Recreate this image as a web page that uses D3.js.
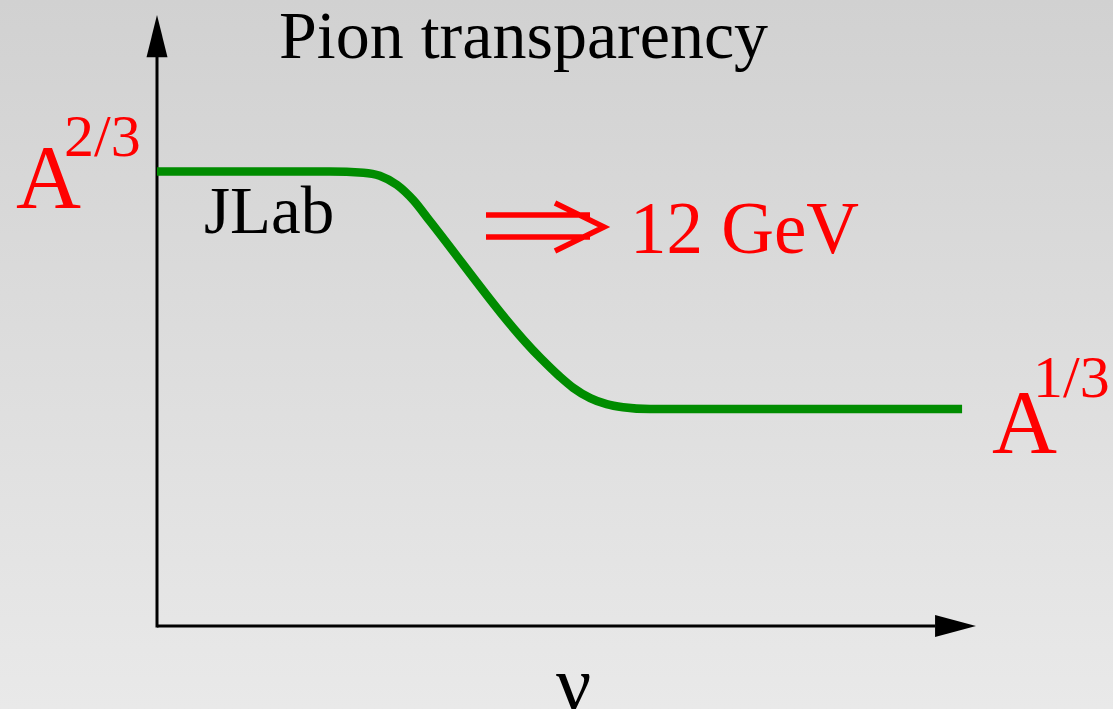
<!DOCTYPE html>
<html>
<head>
<meta charset="utf-8">
<script src="https://cdn.jsdelivr.net/npm/d3@7"></script>
<style>
  body { margin: 0; overflow: hidden; }
  text { font-family: "Liberation Serif", "DejaVu Serif", serif; }
</style>
</head>
<body>
<div id="chart"></div>
<script>
// curve (arbitrary units, axis runs 0..10)
var nu_vals = [0, 2.11, 2.52, 2.72, 2.93, 3.13, 3.33, 4.68, 4.92, 5.08, 5.29, 5.49, 5.69, 6.02, 9.83];
var transp_vals = [7.44, 7.44, 7.42, 7.37, 7.22, 6.97, 6.63, 4.39, 4.08, 3.90, 3.73, 3.63, 3.58, 3.55, 3.55];
var title_text = "Pion transparency";
var x_label = "ν";
var low_label = ["A", "1/3"];
var high_label = ["A", "2/3"];

const width = 1113, height = 709;

const svg = d3.select("#chart")
  .append("svg")
    .attr("width", width)
    .attr("height", height);

// grey background, darker at the top
const grad = svg.append("defs").append("linearGradient")
    .attr("id", "bg")
    .attr("x1", 0).attr("y1", 0).attr("x2", 0).attr("y2", 1);
grad.append("stop").attr("offset", "0%").attr("stop-color", "#d1d1d1");
grad.append("stop").attr("offset", "100%").attr("stop-color", "#e9e9e9");
svg.append("rect")
    .attr("width", width).attr("height", height)
    .attr("fill", "url(#bg)");

const x = d3.scaleLinear().domain([0, 10]).range([157, 976]);
const y = d3.scaleLinear().domain([0, 10]).range([626, 15]);

// axes: plain lines with filled arrowheads
svg.append("line")
    .attr("x1", x(0)).attr("y1", y(0) + 1.5)
    .attr("x2", x(0)).attr("y2", y(9.4))
    .attr("stroke", "black").attr("stroke-width", 3);
svg.append("line")
    .attr("x1", x(0)).attr("y1", y(0))
    .attr("x2", x(9.5)).attr("y2", y(0))
    .attr("stroke", "black").attr("stroke-width", 3);

svg.append("path")
    .attr("d", `M${x(0)},${y(10)} L${x(0) - 10.5},${y(9.31)} L${x(0) + 10.5},${y(9.31)} Z`)
    .attr("fill", "black");
svg.append("path")
    .attr("d", `M${x(10)},${y(0)} L${x(9.5)},${y(0) - 11} L${x(9.5)},${y(0) + 11} Z`)
    .attr("fill", "black");

// transparency curve
const data = nu_vals.map((d, i) => ({nu: d, t: transp_vals[i]}));
const line = d3.line()
    .x(d => x(d.nu))
    .y(d => y(d.t))
    .curve(d3.curveMonotoneX);

svg.append("path")
    .datum(data)
    .attr("d", line)
    .attr("fill", "none")
    .attr("stroke", "#008c00")
    .attr("stroke-width", 8.5);

// texts
svg.append("text")
    .attr("x", 279).attr("y", 58)
    .attr("font-size", 68)
    .attr("fill", "black")
    .text(title_text);

svg.append("text")
    .attr("x", 204).attr("y", 233)
    .attr("font-size", 67)
    .attr("fill", "black")
    .text("JLab");

svg.append("text")
    .attr("x", 556).attr("y", 710)
    .attr("font-size", 78)
    .attr("fill", "black")
    .text(x_label);

// A^{2/3} at the top level
svg.append("text")
    .attr("x", 16).attr("y", 208)
    .attr("font-size", 90)
    .attr("fill", "red")
    .text(high_label[0]);
svg.append("text")
    .attr("x", 64).attr("y", 156)
    .attr("font-size", 60)
    .attr("fill", "red")
    .text(high_label[1]);

// A^{1/3} at the bottom level
svg.append("text")
    .attr("x", 992).attr("y", 453)
    .attr("font-size", 90)
    .attr("fill", "red")
    .text(low_label[0]);
svg.append("text")
    .attr("x", 1033).attr("y", 397)
    .attr("font-size", 60)
    .attr("fill", "red")
    .text(low_label[1]);

// long double arrow and "12 GeV"
svg.append("path")
    .attr("d", "M486,215 L590,215 M486,237 L590,237 M555,203 L604,227 L555,251")
    .attr("fill", "none")
    .attr("stroke", "red")
    .attr("stroke-width", 5.5);

svg.append("text")
    .attr("x", 630).attr("y", 253)
    .attr("font-size", 73)
    .attr("fill", "red")
    .text("12 GeV");
</script>
</body>
</html>
